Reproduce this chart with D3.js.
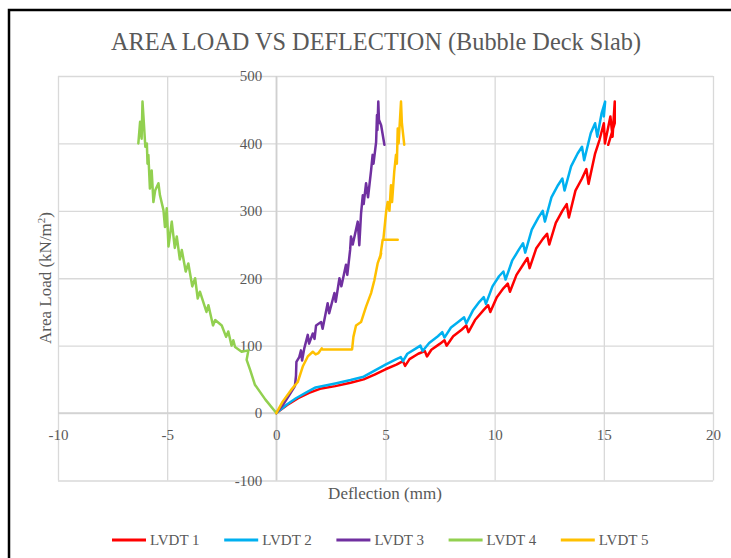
<!DOCTYPE html>
<html>
<head>
<meta charset="utf-8">
<script src="https://cdn.jsdelivr.net/npm/d3@7"></script>
<style>
  body { margin: 0; background: #fff; }
  text { font-family: "Liberation Serif", "Times New Roman", serif; fill: #595959; }
</style>
</head>
<body>
<div id="chart"></div>
<script>
// series names / colours
const seriesNames = ["LVDT 1", "LVDT 2", "LVDT 3", "LVDT 4", "LVDT 5"];
const seriesColors = ["#ff0000", "#00b0f0", "#7030a0", "#92d050", "#ffc000"];

// [deflection mm, area load kN/m2]
const lvdt1 = [[0,0],[0.5,12],[1,22],[1.5,30],[2,36],[2.7,40],[3.4,45],[4,50],[4.5,57],[5,65],[5.5,72],[5.8,77],[5.9,70],[6.1,80],[6.5,88],[6.8,92],[6.9,84],[7.1,94],[7.5,103],[7.7,108],[7.8,100],[8.1,114],[8.5,124],[8.7,130],[8.8,120],[9.1,138],[9.5,153],[9.7,160],[9.8,150],[10.1,172],[10.4,185],[10.6,192],[10.7,180],[11,205],[11.3,220],[11.5,230],[11.6,215],[11.9,244],[12.2,258],[12.4,266],[12.5,250],[12.8,282],[13.1,300],[13.3,310],[13.4,290],[13.7,330],[14,348],[14.2,362],[14.3,340],[14.6,385],[14.8,405],[15,430],[15.05,400],[15.3,440],[15.4,410],[15.5,462],[15.5,430],[15.2,398]];
const lvdt2 = [[0,0],[0.5,13],[0.9,22],[1.4,31],[1.8,38],[2.7,44],[3.4,49],[4,54],[4.5,63],[5,72],[5.5,80],[5.7,83],[5.8,77],[6,88],[6.4,96],[6.6,100],[6.7,92],[7,104],[7.4,114],[7.6,120],[7.7,112],[8,127],[8.4,137],[8.6,142],[8.7,133],[9,152],[9.3,165],[9.5,172],[9.6,162],[9.9,188],[10.2,203],[10.4,210],[10.5,198],[10.8,226],[11.1,242],[11.3,252],[11.4,238],[11.7,272],[12,290],[12.2,300],[12.3,284],[12.6,320],[12.9,338],[13.1,348],[13.2,330],[13.5,366],[13.8,385],[14,395],[14.1,375],[14.4,415],[14.6,430],[14.7,410],[14.9,445],[15.06,462],[15,440]];
const lvdt3 = [[0,0],[0.3,12],[0.6,27],[0.85,40],[0.9,55],[0.92,76],[1.05,83],[1.13,93],[1.18,78],[1.28,96],[1.44,116],[1.5,103],[1.67,118],[1.75,110],[1.82,130],[2.05,135],[2.12,125],[2.35,163],[2.42,148],[2.66,178],[2.72,165],[2.89,200],[2.98,188],[3.19,220],[3.25,205],[3.38,242],[3.42,262],[3.5,250],[3.73,284],[3.8,249],[3.88,296],[3.96,323],[4.0,310],[4.11,341],[4.2,320],[4.34,360],[4.41,383],[4.45,370],[4.57,402],[4.61,442],[4.63,420],[4.67,462],[4.7,435],[4.8,427],[4.95,398]];
const lvdt4 = [[0,0],[-0.5,20],[-0.98,42],[-1.2,64],[-1.36,79],[-1.28,93],[-1.59,91],[-1.89,98],[-1.97,108],[-2.05,100],[-2.2,121],[-2.3,113],[-2.5,130],[-2.8,138],[-2.9,130],[-3.11,160],[-3.2,150],[-3.5,180],[-3.6,170],[-3.72,200],[-3.85,188],[-4.03,222],[-4.15,210],[-4.33,242],[-4.42,228],[-4.56,262],[-4.65,245],[-4.79,284],[-4.94,247],[-5.02,304],[-5.1,276],[-5.17,301],[-5.33,323],[-5.4,341],[-5.55,330],[-5.63,313],[-5.71,360],[-5.79,333],[-5.86,383],[-5.9,370],[-5.93,400],[-6.0,395],[-6.09,442],[-6.13,462],[-6.17,407],[-6.24,432],[-6.32,400]];
const lvdt5 = [[0,0],[0.29,17],[0.67,34],[0.98,46],[1.21,69],[1.44,84],[1.67,91],[1.8,87],[1.93,89],[2.08,96],[2.1,94.5],[3.47,94.5],[3.53,113],[3.65,130],[3.88,135],[4.11,158],[4.34,178],[4.49,197],[4.64,222],[4.8,237],[4.75,230],[4.87,257],[5.56,257],[4.9,257],[5.03,299],[5.1,313],[5.18,300],[5.25,338],[5.3,313],[5.4,358],[5.48,383],[5.52,370],[5.56,422],[5.6,400],[5.71,462],[5.75,430],[5.86,398]];
const allSeries = [lvdt1, lvdt2, lvdt3, lvdt4, lvdt5];

const xTicks = [-10, -5, 0, 5, 10, 15, 20];
const yTicks = [-100, 0, 100, 200, 300, 400, 500];

const w = 731, h = 558;
const plotLeft = 58, plotRight = 713, plotTop = 76, plotBottom = 480.5;

const svg = d3.select("#chart").append("svg")
  .attr("width", w)
  .attr("height", h);

// outer chart frame
svg.append("rect")
  .attr("x", 9).attr("y", 10)
  .attr("width", 740).attr("height", 600)
  .attr("fill", "none")
  .attr("stroke", "#000")
  .attr("stroke-width", 2.5);

const xScale = d3.scaleLinear().domain([-10, 20]).range([plotLeft, plotRight]);
const yScale = d3.scaleLinear().domain([-100, 500]).range([plotBottom, plotTop]);

// gridlines
svg.append("g")
  .attr("transform", "translate(0," + plotBottom + ")")
  .call(d3.axisBottom(xScale).tickValues(xTicks).tickSize(-(plotBottom - plotTop)).tickFormat(""))
  .call(g => g.select(".domain").remove())
  .call(g => g.selectAll("line").attr("stroke", "#d9d9d9").attr("stroke-width", 1.3));

svg.append("g")
  .attr("transform", "translate(" + plotLeft + ",0)")
  .call(d3.axisLeft(yScale).tickValues(yTicks).tickSize(-(plotRight - plotLeft)).tickFormat(""))
  .call(g => g.select(".domain").remove())
  .call(g => g.selectAll("line").attr("stroke", "#d9d9d9").attr("stroke-width", 1.3));

// axis lines through zero
svg.append("line")
  .attr("x1", plotLeft).attr("x2", plotRight)
  .attr("y1", yScale(0)).attr("y2", yScale(0))
  .attr("stroke", "#d0d0d0").attr("stroke-width", 1.5);
svg.append("line")
  .attr("x1", xScale(0)).attr("x2", xScale(0))
  .attr("y1", plotTop).attr("y2", plotBottom)
  .attr("stroke", "#d0d0d0").attr("stroke-width", 1.5);

// tick labels (axes cross at zero), plain hyphen for negatives like Excel
const xAxis = d3.axisBottom(xScale).tickValues(xTicks).tickSize(0).tickPadding(16).tickFormat(d => String(d));
svg.append("g")
  .attr("transform", "translate(0," + yScale(0) + ")")
  .call(xAxis)
  .call(g => g.select(".domain").remove())
  .call(g => g.selectAll("text").attr("font-size", 15).attr("font-family", "Liberation Serif").attr("fill", "#595959"));

const yAxis = d3.axisLeft(yScale).tickValues(yTicks).tickSize(0).tickPadding(14).tickFormat(d => String(d));
svg.append("g")
  .attr("transform", "translate(" + xScale(0) + ",0)")
  .call(yAxis)
  .call(g => g.select(".domain").remove())
  .call(g => g.selectAll("text").attr("font-size", 15).attr("font-family", "Liberation Serif").attr("fill", "#595959"));

// series
const line = d3.line().x(d => xScale(d[0])).y(d => yScale(d[1]));
svg.selectAll(".series")
  .data(allSeries)
  .enter()
  .append("path")
  .attr("class", "series")
  .attr("d", line)
  .attr("fill", "none")
  .attr("stroke", (d, i) => seriesColors[i])
  .attr("stroke-width", 2.5)
  .attr("stroke-linejoin", "round")
  .attr("stroke-linecap", "round");

// titles
svg.append("text")
  .attr("x", 376).attr("y", 50)
  .attr("text-anchor", "middle")
  .attr("font-size", 24.3)
  .text("AREA LOAD VS DEFLECTION (Bubble Deck Slab)");

svg.append("text")
  .attr("x", 385).attr("y", 499)
  .attr("text-anchor", "middle")
  .attr("font-size", 17)
  .text("Deflection (mm)");

const yTitle = svg.append("text")
  .attr("transform", "translate(51,278) rotate(-90)")
  .attr("text-anchor", "middle")
  .attr("font-size", 17);
yTitle.append("tspan").text("Area Load (kN/m");
yTitle.append("tspan").attr("font-size", 11).attr("dy", -6).text("2");
yTitle.append("tspan").attr("dy", 6).text(")");

// legend
const legend = svg.selectAll(".legend")
  .data(seriesNames)
  .enter()
  .append("g")
  .attr("class", "legend")
  .attr("transform", (d, i) => "translate(" + (112 + i * 112.2) + ",540)");
legend.append("line")
  .attr("x1", 0).attr("x2", 34)
  .attr("stroke", (d, i) => seriesColors[i])
  .attr("stroke-width", 3);
legend.append("text")
  .attr("x", 38).attr("y", 5)
  .attr("font-size", 15)
  .text(d => d);
</script>
</body>
</html>
